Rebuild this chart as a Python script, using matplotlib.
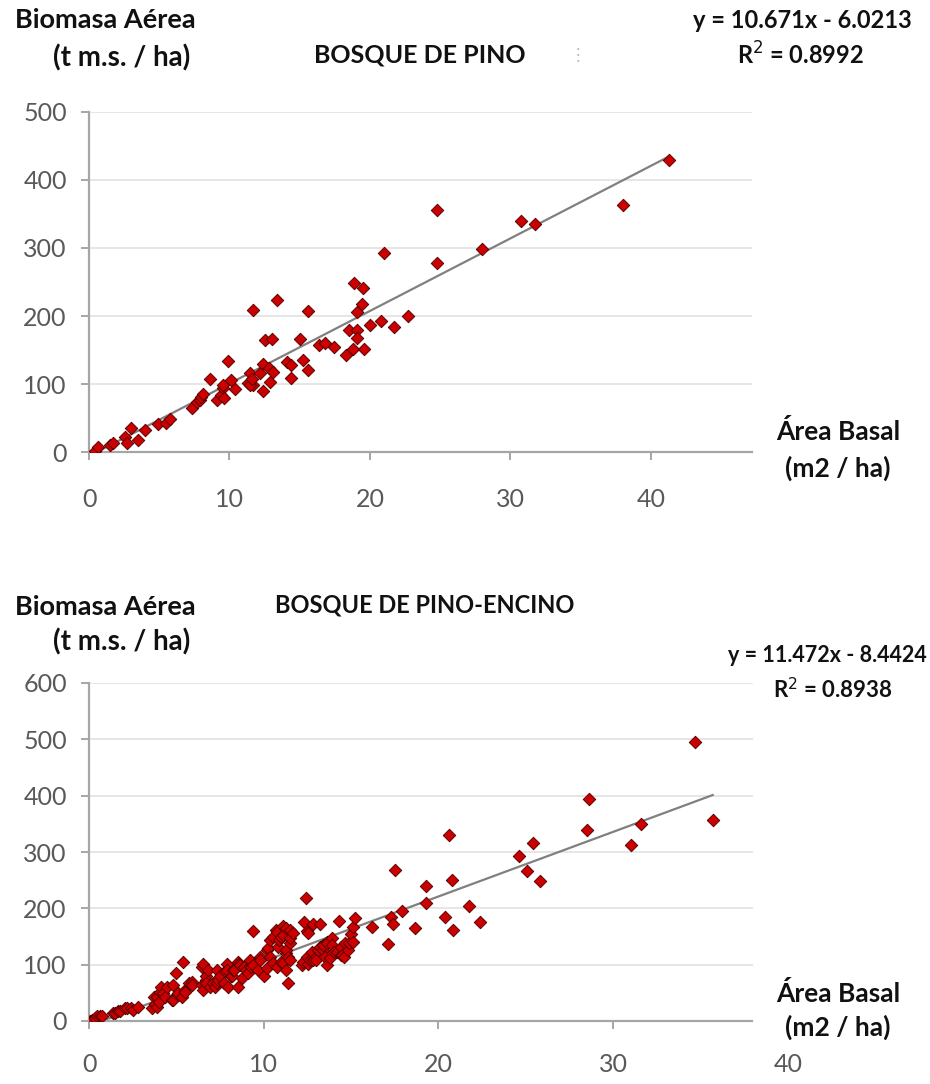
import matplotlib
matplotlib.use("Agg")
import matplotlib.pyplot as plt

plt.rcParams['font.family'] = ['Lato', 'DejaVu Sans']

W, H, DPI = 930, 1084, 100

# ---------------- data: Bosque de pino ----------------
pino_title = "BOSQUE DE PINO"
pino_x = [0.43, 0.66, 1.5, 1.73, 2.56, 2.7, 3.0, 3.5, 4.0, 4.9, 5.5, 5.77,
          7.3, 7.7, 7.9, 8.0, 8.1, 8.6,
          9.1, 9.4, 9.55, 9.6, 9.55, 9.9, 10.1, 10.4,
          11.46, 11.3, 11.7, 11.46, 11.65, 11.6,
          12.2, 12.4, 12.8, 13.1, 12.9, 12.4, 12.5, 13.0,
          13.4, 14.1, 14.4, 14.4, 15.0, 15.25, 15.6, 15.6,
          16.4, 16.8, 17.45,
          18.3, 18.5, 18.8, 19.05, 19.05, 19.6, 18.9, 19.5, 19.4, 19.05,
          20.0, 20.8, 21.7, 21.0, 22.7,
          24.8, 24.8, 27.95, 30.75, 31.75, 38.0, 41.3]
pino_y = [2, 7, 11, 13, 22, 13, 36, 18, 32, 41, 43, 49,
          64, 74, 76, 81, 86, 108,
          76, 84, 94, 79, 98, 134, 106, 93,
          116, 101, 98, 98, 209, 108,
          116, 130, 123, 117, 103, 89, 164, 166,
          223, 133, 128, 109, 166, 136, 121, 208,
          157, 160, 155,
          143, 179, 152, 179, 167, 151, 249, 241, 218, 206,
          187, 193, 184, 293, 200,
          356, 278, 299, 340, 336, 363, 430]
pino_slope, pino_intercept, pino_r2 = 10.671, -6.0213, 0.8992
pino_xticks = [0, 10, 20, 30, 40]
pino_yticks = [0, 100, 200, 300, 400, 500]

# ---------------- data: Bosque de pino-encino ----------------
pe_title = "BOSQUE DE PINO-ENCINO"
pe_x = [0.06, 0.15, 0.34, 0.44, 0.63, 0.73, 1.4, 1.5, 1.68, 1.8, 2.06, 2.2, 2.4, 2.5, 2.8,
        3.6, 3.7, 3.78, 3.87, 3.9, 4.0, 4.06, 4.1, 4.25, 4.35, 4.45, 4.73, 4.8, 4.8, 5.0,
        5.1, 5.1, 5.3, 5.4, 5.5, 5.5, 5.7, 5.9, 5.9, 6.45, 6.45, 6.5, 6.5, 6.7, 6.7, 6.7, 6.8, 6.9,
        7.1, 7.2, 7.3, 7.3, 7.4, 7.5, 7.7, 7.8, 7.9, 7.9, 7.97, 8.1, 8.2, 8.26, 8.3, 8.55, 8.55,
        8.6, 8.64, 8.74, 8.9, 9.0, 9.1, 9.2, 9.3, 9.4, 9.4, 9.7, 9.8, 9.8,
        10.0, 10.2, 10.2, 10.26, 10.36, 10.36, 10.55, 10.55, 10.7, 10.74, 10.74, 10.84, 10.9,
        11.0, 11.0, 11.1, 11.1, 11.1, 11.3, 11.3, 11.3, 11.3, 11.4, 11.4, 11.5, 11.5, 11.5, 11.5, 11.7,
        12.2, 12.27, 12.3, 12.4, 12.45, 12.5, 12.55, 12.55, 12.65, 12.75, 12.8, 12.8, 13.0, 13.0,
        13.1, 13.2, 13.2, 13.4, 13.4, 13.5, 13.6, 13.6, 13.6, 13.8, 13.9, 13.9, 14.0, 14.2, 14.3,
        14.4, 14.4, 14.5, 14.6, 14.65, 14.8, 14.9, 15.0, 15.1, 15.1, 15.2, 16.2,
        17.1, 17.3, 17.4, 17.5, 17.9, 18.66, 19.3, 19.3, 20.4, 20.6, 20.75, 20.85, 21.75, 22.4,
        24.6, 25.1, 25.4, 25.8, 28.5, 28.6, 31.0, 31.6, 34.7, 35.7]
pe_y = [0, 2, 5, 8, 8, 9, 14, 14, 17, 17, 23, 23, 23, 20, 25,
        23, 43, 31, 43, 25, 34, 52, 61, 49, 43, 61, 37, 64, 37, 86,
        46, 49, 43, 105, 55, 52, 67, 70, 64, 96, 64, 102, 55, 73, 79, 67, 91, 61,
        67, 61, 67, 91, 73, 79, 67, 88, 102, 91, 61, 79, 79, 91, 91, 105, 61,
        102, 100, 76, 96, 91, 85, 108, 96, 159, 100, 91, 114, 108,
        79, 126, 94, 129, 144, 114, 150, 103, 162, 96, 158, 132, 144,
        150, 105, 168, 152, 103, 165, 120, 91, 126, 114, 67, 162, 138, 147, 108, 156,
        99, 105, 176, 218, 114, 159, 156, 102, 108, 123, 173, 108, 114, 108,
        126, 173, 132, 126, 135, 114, 141, 138, 99, 111, 147, 135, 123, 123, 178,
        117, 132, 117, 114, 138, 126, 138, 154, 167, 141, 182, 166,
        137, 185, 173, 268, 196, 165, 239, 209, 185, 330, 250, 162, 204, 175,
        293, 267, 316, 249, 339, 394, 313, 350, 495, 356]
pe_slope, pe_intercept, pe_r2 = 11.472, -8.4424, 0.8938
pe_xticks = [0, 10, 20, 30, 40]
pe_yticks = [0, 100, 200, 300, 400, 500, 600]

y_label = ["Biomasa Aérea", "(t m.s. / ha)"]
x_label = ["Área Basal", "(m2 / ha)"]

# ---------------- styling ----------------
RED = "#cc0000"
EDGE = "#5a0000"
AXIS = "#a6a6a6"
GRID = "#e4e4e4"
TICKC = "#595959"
LINE = "#808080"

fig = plt.figure(figsize=(W / DPI, H / DPI), dpi=DPI)
fig.patch.set_facecolor("white")


def fbox(l, r, top, bottom):
    return [l / W, 1 - bottom / H, (r - l) / W, (bottom - top) / H]


def ftxt(px, py, s, **kw):
    fig.text(px / W, 1 - py / H, s, **kw)


def style_axes(ax, xticks, yticks, xpad, grid_xmax_frac):
    for sp in ["top", "right"]:
        ax.spines[sp].set_visible(False)
    for sp in ["left", "bottom"]:
        ax.spines[sp].set_color(AXIS)
        ax.spines[sp].set_linewidth(1.6)
    ax.set_xticks(xticks)
    ax.set_yticks(yticks)
    ax.tick_params(axis="both", colors=AXIS, labelcolor=TICKC, labelsize=18,
                   length=6, width=1.4, direction="out")
    ax.tick_params(axis="x", pad=xpad)
    ax.tick_params(axis="y", pad=10)
    for yv in yticks[1:]:
        ax.axhline(yv, xmin=0, xmax=grid_xmax_frac, color=GRID, lw=1.3, zorder=0)
    ax.set_facecolor("white")


def draw(ax, xs, ys, slope, intercept):
    x0, x1 = min(xs), max(xs)
    ax.plot([x0, x1], [slope * x0 + intercept, slope * x1 + intercept],
            color=LINE, lw=1.6, zorder=2)
    ax.scatter(xs, ys, marker="D", s=40, color=RED, edgecolors=EDGE,
               linewidths=0.7, zorder=3)


# ---- top chart ----
ax1 = fig.add_axes(fbox(89, 752, 112, 452))
draw(ax1, pino_x, pino_y, pino_slope, pino_intercept)
ax1.set_xlim(0, 47.2)
ax1.set_ylim(0, 500)
style_axes(ax1, pino_xticks, pino_yticks, 20, 1.0)

# ---- bottom chart ----
ax2 = fig.add_axes(fbox(89, 89 + 40 * 17.47, 683, 1021))
draw(ax2, pe_x, pe_y, pe_slope, pe_intercept)
ax2.set_xlim(0, 40)
ax2.set_ylim(0, 600)
style_axes(ax2, pe_xticks, pe_yticks, 17, 37.95 / 40)
ax2.spines["bottom"].set_bounds(0, 37.95)
ax2.xaxis.get_major_ticks()[-1].tick1line.set_visible(False)

TXT = "#111111"


def btxt(px, py, s, size, ha="center"):
    ftxt(px, py, s, ha=ha, va="center", fontweight="bold", color=TXT, fontsize=size)


# top texts
btxt(105, 20, y_label[0], 19.5)
btxt(122, 58, y_label[1], 20)
btxt(420, 55, pino_title, 18)
btxt(802, 20, f"y = {pino_slope}x - {abs(pino_intercept)}", 17)
btxt(800, 55, f"R$^2$ = {pino_r2}", 17)
btxt(838, 432, x_label[0], 19)
btxt(838, 468, x_label[1], 19)
ftxt(578, 55, "\u22ee", ha="center", va="center", color="#bbbbbb", fontsize=12,
     family="DejaVu Sans")

# bottom texts
btxt(105, 607, y_label[0], 19.5)
btxt(122, 642, y_label[1], 20)
btxt(425, 605, pe_title, 17)
btxt(927, 655, f"y = {pe_slope}x - {abs(pe_intercept)}", 15.5, ha="right")
btxt(833, 690, f"R$^2$ = {pe_r2}", 16)
btxt(838, 993, x_label[0], 19)
btxt(838, 1027, x_label[1], 19)

fig.savefig("out.png", dpi=DPI, facecolor="white")
